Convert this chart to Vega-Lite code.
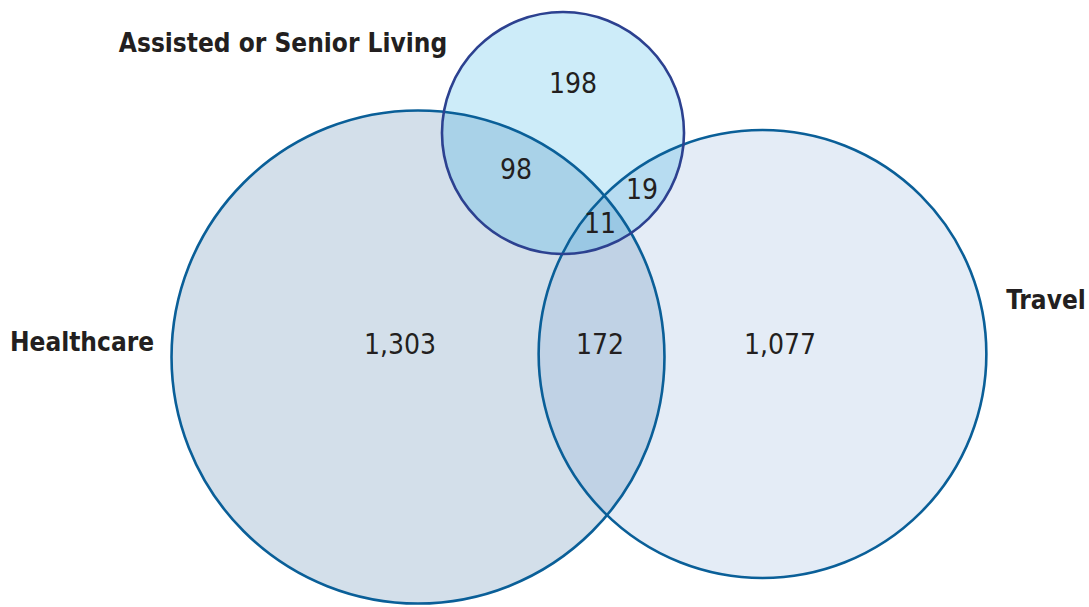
{
  "$schema": "https://vega.github.io/schema/vega-lite/v6.json",
  "width": 1089,
  "height": 607,
  "autosize": {"type": "none"},
  "padding": 0,
  "background": "white",
  "config": {"view": {"stroke": null}},
  "datasets": {
    "sets": [
      {"set": "Healthcare", "total": 1584, "cx": 418, "cy": 357, "lx": 82, "ly": 343},
      {"set": "Travel", "total": 1279, "cx": 762.5, "cy": 354, "lx": 1046, "ly": 301},
      {"set": "Assisted or Senior Living", "total": 326, "cx": 563, "cy": 133, "lx": 283, "ly": 44}
    ],
    "regions": [
      {"label": "198", "x": 573, "y": 85},
      {"label": "98", "x": 516, "y": 171},
      {"label": "19", "x": 642, "y": 191},
      {"label": "11", "x": 600, "y": 225},
      {"label": "1,303", "x": 400, "y": 346},
      {"label": "172", "x": 600, "y": 346},
      {"label": "1,077", "x": 780, "y": 346}
    ]
  },
  "layer": [
    {
      "data": {"name": "sets"},
      "mark": {"type": "point", "shape": "circle", "filled": true, "fillOpacity": 0.2, "strokeWidth": 0},
      "encoding": {
        "x": {"field": "cx", "type": "quantitative", "scale": {"domain": [0, 1089]}, "axis": null},
        "y": {"field": "cy", "type": "quantitative", "scale": {"domain": [0, 607], "reverse": true}, "axis": null},
        "size": {"field": "total", "type": "quantitative", "scale": {"type": "pow", "exponent": 0.9, "domain": [0, 1584], "range": [0, 243000]}, "legend": null},
        "fill": {"field": "set", "type": "nominal", "scale": {"domain": ["Healthcare", "Travel", "Assisted or Senior Living"], "range": ["#235f96", "#78a0d2", "#05a0e1"]}, "legend": null},
        "opacity": {"value": 1}
      }
    },
    {
      "data": {"name": "sets"},
      "mark": {"type": "point", "shape": "circle", "filled": false, "strokeWidth": 2.6, "opacity": 1},
      "encoding": {
        "x": {"field": "cx", "type": "quantitative", "scale": {"domain": [0, 1089]}, "axis": null},
        "y": {"field": "cy", "type": "quantitative", "scale": {"domain": [0, 607], "reverse": true}, "axis": null},
        "size": {"field": "total", "type": "quantitative", "scale": {"type": "pow", "exponent": 0.9, "domain": [0, 1584], "range": [0, 243000]}, "legend": null},
        "stroke": {"field": "set", "type": "nominal", "scale": {"domain": ["Healthcare", "Travel", "Assisted or Senior Living"], "range": ["#0a5f98", "#0a5f98", "#2c4190"]}, "legend": null}
      }
    },
    {
      "data": {"name": "regions"},
      "mark": {"type": "text", "align": "center", "baseline": "middle", "font": "DejaVu Sans Condensed, sans-serif", "fontSize": 28, "color": "#231f20"},
      "encoding": {
        "x": {"field": "x", "type": "quantitative", "scale": {"domain": [0, 1089]}, "axis": null},
        "y": {"field": "y", "type": "quantitative", "scale": {"domain": [0, 607], "reverse": true}, "axis": null},
        "text": {"field": "label", "type": "nominal"}
      }
    },
    {
      "data": {"name": "sets"},
      "mark": {"type": "text", "align": "center", "baseline": "middle", "font": "DejaVu Sans Condensed, sans-serif", "fontSize": 26, "fontWeight": "bold", "color": "#231f20"},
      "encoding": {
        "x": {"field": "lx", "type": "quantitative", "scale": {"domain": [0, 1089]}, "axis": null},
        "y": {"field": "ly", "type": "quantitative", "scale": {"domain": [0, 607], "reverse": true}, "axis": null},
        "text": {"field": "set", "type": "nominal"}
      }
    }
  ]
}
